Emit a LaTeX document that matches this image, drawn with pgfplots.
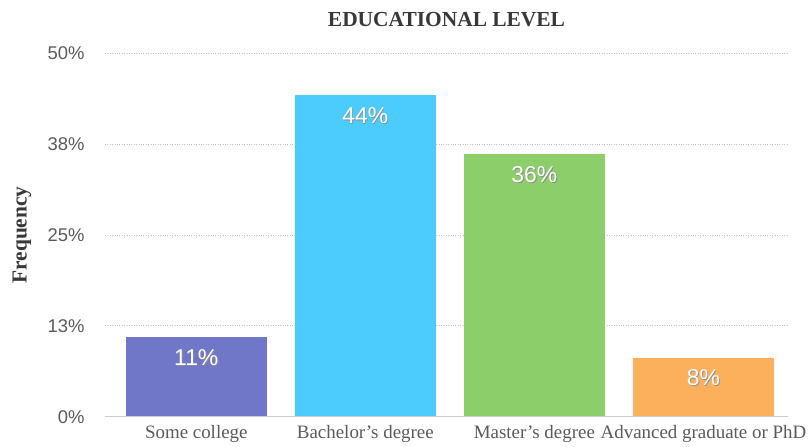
\documentclass[border=0pt]{standalone}
\usepackage{pgfplots}
\pgfplotsset{compat=1.18}
\usepackage{fontspec}
\setmainfont{Liberation Serif}
\newfontfamily\sansf{Liberation Sans}
\definecolor{cPurple}{HTML}{7077C9}
\definecolor{cCyan}{HTML}{4CCBFD}
\definecolor{cGreen}{HTML}{8CCF6A}
\definecolor{cOrange}{HTML}{FDB05B}
\definecolor{gridc}{HTML}{C4C4C4}
\definecolor{tickc}{HTML}{5A5A5A}
\definecolor{titc}{HTML}{383838}
\begin{document}
\begin{tikzpicture}
\path[use as bounding box] (0,0) rectangle (809bp,447bp);
\begin{axis}[
  at={(105bp,30.3bp)}, anchor=south west,
  scale only axis, width=683bp, height=363.4bp,
  xmin=-0.54, xmax=3.5, ymin=0, ymax=50,
  ybar, bar width=141bp, bar shift=0pt,
  axis line style={draw=none},
  ymajorgrids, grid style={gridc, line width=0.8bp, dash pattern=on 0.8bp off 1.6bp},
  ytick={0,12.5,25,37.5,50}, yticklabels={0\%,13\%,25\%,38\%,50\%},
  xtick={0,1,2,3},
  xticklabels={Some college, Bachelor’s degree, Master’s degree, Advanced graduate or PhD},
  major tick length=0,
  yticklabel style={font=\sansf\fontsize{18.5}{20}\selectfont, text=tickc, xshift=-17bp},
  xticklabel style={font=\fontsize{19}{21}\selectfont, text=tickc, yshift=-5bp},
  title={EDUCATIONAL LEVEL},
  title style={at={(axis description cs:0.5,1.076)}, anchor=center, font=\bfseries\fontsize{21.5}{24}\selectfont, text=titc},
  ylabel={Frequency},
  ylabel style={at={(axis description cs:-0.1215,0.5)}, anchor=center, font=\bfseries\fontsize{21.5}{24}\selectfont, text=titc},
  every node near coord/.append style={font=\sansf\fontsize{23}{25}\selectfont, text=white, anchor=center, yshift=-20bp},
]
\addplot[fill=cPurple, draw=none] coordinates {(0,10.9)};
\addplot[fill=cCyan, draw=none] coordinates {(1,44.2)};
\addplot[fill=cGreen, draw=none] coordinates {(2,36.1)};
\addplot[fill=cOrange, draw=none] coordinates {(3,8.1)};
\draw[gray!40, line width=1.2bp] (axis cs:-0.54,0) -- ++(692bp,0);
\addplot[fill=none, draw=none, nodes near coords, point meta=explicit symbolic,
  every node near coord/.append style={text=black!45, xshift=0.8bp, yshift=-1.2bp}]
  coordinates {(0,10.9) [11\%] (1,44.2) [44\%] (2,36.1) [36\%] (3,8.1) [8\%]};
\addplot[fill=none, draw=none, nodes near coords, point meta=explicit symbolic]
  coordinates {(0,10.9) [11\%] (1,44.2) [44\%] (2,36.1) [36\%] (3,8.1) [8\%]};
\end{axis}
\end{tikzpicture}
\end{document}
